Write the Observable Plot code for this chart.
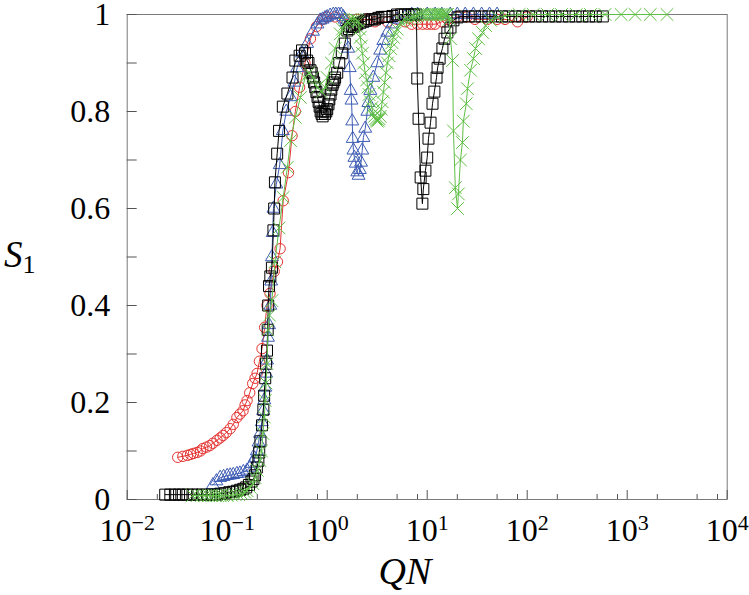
<!DOCTYPE html>
<html>
<head>
<meta charset="utf-8">
<script src="https://cdn.jsdelivr.net/npm/d3@7"></script>
<script src="https://cdn.jsdelivr.net/npm/@observablehq/plot@0.6"></script>
<style>
  html, body { margin: 0; padding: 0; background: #fff; }
</style>
</head>
<body>
<div id="chart"></div>
<script>
// ---- data ----
const redQN = [0.032,0.036,0.040,0.043,0.046,0.050,0.054,0.057,0.062,0.067,0.072,0.079,0.085,0.091,0.098,0.107,0.115,0.125,0.134,0.144,0.151,0.158,0.168,0.180,0.190,0.199,0.210,0.223,0.237,0.250,0.268,0.295,0.318,0.338,0.363,0.41,0.445,0.48,0.53,0.60,0.68,0.78,0.9,1.0,1.2,1.5,2,2.5,3,4,5,6,7,8,9,10,11,12,14,16,20,25,30,40,50,60,80,100];
const redS  = [0.087,0.089,0.091,0.093,0.095,0.097,0.100,0.105,0.108,0.111,0.116,0.122,0.127,0.132,0.138,0.146,0.155,0.169,0.176,0.183,0.195,0.204,0.220,0.239,0.250,0.260,0.285,0.311,0.355,0.400,0.425,0.47,0.49,0.517,0.616,0.674,0.75,0.80,0.85,0.90,0.95,0.975,0.99,0.995,0.995,0.99,0.99,0.99,0.985,0.985,0.99,0.985,0.98,0.98,0.98,0.98,0.98,0.98,0.985,0.99,0.995,0.995,0.99,0.99,0.99,0.99,0.985,0.995];

const blueQN = [0.072,0.078,0.085,0.092,0.100,0.107,0.115,0.125,0.134,0.145,0.158,0.168,0.177,0.188,0.198,0.206,0.213,0.222,0.229,0.235,0.240,0.245,0.250,0.256,0.262,0.270,0.275,0.280,0.285,0.290,0.310,0.335,0.360,0.390,0.430,0.470,0.500,0.560,0.630,0.720,0.800,0.850,0.900,0.950,1.00,1.07,1.15,1.22,1.30,1.38,1.45,1.50,1.55,1.62,1.68,1.72,1.75,1.78,1.80,1.83,1.87,1.93,2.00,2.06,2.12,2.18,2.24,2.30,2.40,2.52,2.58,2.70,2.89,3.17,3.39,3.64,3.99,4.48,5,6,7,8,10,12,14,17,20,24,29,35,42,50];
const blueS  = [0.030,0.038,0.045,0.047,0.049,0.050,0.051,0.053,0.054,0.057,0.060,0.066,0.074,0.085,0.100,0.118,0.136,0.160,0.183,0.205,0.231,0.260,0.287,0.334,0.360,0.400,0.450,0.500,0.550,0.600,0.650,0.690,0.760,0.800,0.830,0.860,0.890,0.920,0.940,0.965,0.980,0.988,0.990,0.993,0.995,0.998,1.0,1.0,1.0,1.0,0.995,0.990,0.985,0.930,0.890,0.843,0.823,0.780,0.744,0.720,0.705,0.693,0.675,0.668,0.680,0.695,0.720,0.746,0.765,0.800,0.818,0.843,0.870,0.900,0.926,0.946,0.963,0.980,0.990,0.995,1,1,1,1,1,1,1,1,1,1,1,1];

const blackQN = [0.024,0.027,0.030,0.033,0.036,0.040,0.045,0.050,0.056,0.063,0.070,0.078,0.085,0.095,0.105,0.115,0.125,0.135,0.145,0.155,0.165,0.175,0.183,0.190,0.198,0.205,0.209,0.215,0.223,0.230,0.234,0.240,0.245,0.250,0.254,0.257,0.262,0.270,0.280,0.290,0.295,0.300,0.316,0.330,0.360,0.400,0.450,0.480,0.530,0.560,0.600,0.630,0.650,0.680,0.700,0.720,0.740,0.760,0.780,0.800,0.820,0.840,0.860,0.880,0.900,0.920,0.950,0.980,1.00,1.03,1.05,1.08,1.10,1.13,1.15,1.18,1.20,1.26,1.32,1.40,1.50,1.59,1.65,1.70,1.78,1.85,1.92,2.00,2.15,2.30,2.45,2.60,2.80,3.00,3.25,3.50,3.75,4.00,4.50,5.00,5.50,6.00,6.50,7.00,7.40,7.80,7.96,8.20,8.60,8.95,9.15,9.60,10.0,10.3,10.8,11.3,11.8,12.4,12.7,13.3,14.2,14.9,15.9,17.1,18.3,20.1,22,26,30,35,41,48,56,65,76,89,104,121,141,165,192,224,262,305,356,415,485,570];
const blackS  = [0.010,0.010,0.010,0.010,0.010,0.010,0.010,0.010,0.010,0.010,0.010,0.010,0.012,0.013,0.015,0.016,0.018,0.020,0.022,0.025,0.030,0.037,0.042,0.050,0.066,0.080,0.097,0.120,0.153,0.185,0.214,0.250,0.280,0.307,0.350,0.400,0.440,0.460,0.478,0.555,0.600,0.654,0.713,0.760,0.810,0.837,0.870,0.905,0.915,0.926,0.920,0.905,0.900,0.885,0.880,0.870,0.860,0.850,0.840,0.830,0.820,0.810,0.800,0.795,0.790,0.800,0.795,0.800,0.805,0.815,0.825,0.835,0.845,0.855,0.860,0.865,0.870,0.880,0.900,0.920,0.940,0.967,0.970,0.975,0.975,0.975,0.978,0.980,0.983,0.985,0.987,0.990,0.990,0.990,0.993,0.995,0.995,0.995,0.997,1.0,1.0,1.0,1.0,1.0,1.0,1.0,0.868,0.785,0.664,0.610,0.640,0.678,0.705,0.744,0.777,0.816,0.841,0.870,0.890,0.909,0.930,0.950,0.963,0.973,0.988,0.994,0.996,0.996,0.996,0.996,0.996,0.996,0.996,0.996,0.996,0.996,0.996,0.996,0.996,0.996,0.996,0.996,0.996,0.996,0.996,0.996,0.996,0.996];

const greenQN = [0.045,0.050,0.055,0.060,0.065,0.070,0.075,0.080,0.085,0.090,0.100,0.110,0.120,0.130,0.140,0.150,0.158,0.170,0.180,0.190,0.200,0.213,0.220,0.228,0.235,0.240,0.245,0.250,0.256,0.265,0.280,0.300,0.330,0.363,0.400,0.430,0.480,0.540,0.600,0.660,0.720,0.800,0.880,0.950,1.00,1.10,1.20,1.35,1.42,1.50,1.60,1.70,1.80,1.90,2.00,2.05,2.10,2.14,2.20,2.25,2.32,2.40,2.48,2.55,2.62,2.70,2.80,2.89,2.97,3.05,3.10,3.17,3.25,3.30,3.39,3.47,3.55,3.65,3.75,3.87,4.00,4.15,4.30,4.45,4.60,4.80,5.00,5.50,6.00,6.50,7.00,7.50,8.00,8.50,9.00,9.50,10.0,10.5,11.0,11.5,12.0,12.5,13.0,13.5,14.0,14.5,15.0,15.5,16.0,16.6,17.1,17.9,18.3,19.1,20.1,20.5,21.5,22.5,23.0,24.6,25.3,27.1,29.0,30.4,32.6,35.8,38.4,43.0,50.5,60,83,115,160,220,310,430,600,870,1200,1700,2500];
const greenS  = [0.008,0.008,0.008,0.008,0.008,0.008,0.008,0.008,0.008,0.008,0.008,0.009,0.010,0.010,0.012,0.015,0.018,0.025,0.033,0.045,0.060,0.080,0.100,0.136,0.170,0.204,0.240,0.280,0.350,0.380,0.410,0.490,0.560,0.623,0.685,0.740,0.788,0.829,0.870,0.880,0.870,0.850,0.840,0.850,0.870,0.900,0.930,0.960,0.970,0.980,0.985,0.990,0.990,0.990,0.988,0.985,0.970,0.953,0.935,0.920,0.900,0.880,0.865,0.850,0.835,0.820,0.808,0.796,0.790,0.785,0.782,0.780,0.782,0.785,0.790,0.805,0.820,0.840,0.860,0.880,0.900,0.915,0.930,0.942,0.953,0.962,0.970,0.985,0.988,0.990,0.993,0.995,0.997,1.0,1.0,1.0,1.0,1.0,1.0,1.0,1.0,1.0,1.0,1.0,1.0,1.0,1.0,1.0,1.0,0.990,0.950,0.905,0.760,0.643,0.600,0.630,0.700,0.736,0.780,0.816,0.847,0.885,0.909,0.930,0.950,0.963,0.977,0.988,0.994,0.997,1,1,1,1,1,1,1,1,1,1,1];

const xMajor = [0.01, 0.1, 1, 10, 100, 1000, 10000];
const xMinor = [0.02,0.05,0.08,0.2,0.5,0.8,2,5,8,20,50,80,200,500,800,2000,5000,8000];
const yMajor = [0, 0.2, 0.4, 0.6, 0.8, 1];
const yMinor = [0.1, 0.3, 0.5, 0.7, 0.9];

const FONT = "'Liberation Serif', 'DejaVu Serif', serif";
const toRows = (qn, s) => qn.map((q, i) => ({qn: q, s: s[i]}));
const series = [
  {rows: toRows(redQN, redS),     color: "#e3312f", symbol: "circle",   r: 5.2},
  {rows: toRows(blueQN, blueS),   color: "#3d5cb3", symbol: "triangle", r: 4.8},
  {rows: toRows(blackQN, blackS), color: "#000000", symbol: "square",   r: 6.2},
  {rows: toRows(greenQN, greenS), color: "#5fbf45", symbol: "times",    r: 5.8}
];

const innerW = 749 - 126.7 - 22.3;
const innerH = 595 - 14 - 96;

const marks = [
  Plot.frame({stroke: "#7a7a7a"}),
  Plot.tickX(xMajor, {x: d => d, insetTop: innerH - 9, stroke: "#555"}),
  Plot.tickX(xMinor, {x: d => d, insetTop: innerH - 5, stroke: "#555"}),
  Plot.tickY(yMajor.concat(yMinor), {y: d => d, insetRight: innerW - 10, stroke: "#555"})
];
for (const sr of series) {
  marks.push(Plot.line(sr.rows, {x: "qn", y: "s", stroke: sr.color, strokeWidth: 1}));
  marks.push(Plot.dot(sr.rows, {x: "qn", y: "s", symbol: sr.symbol, r: sr.r, stroke: sr.color, fill: "none", strokeWidth: 1}));
}

const chart = Plot.plot({
  width: 749,
  height: 595,
  marginLeft: 126.7,
  marginRight: 22.3,
  marginTop: 14,
  marginBottom: 96,
  style: {fontFamily: FONT, fontSize: "32px", background: "#fff", color: "#000"},
  x: {type: "log", domain: [0.01, 10000], ticks: xMajor, tickSize: 0, tickPadding: 19,
      tickFormat: d => "10^" + Math.round(Math.log10(d)), label: null},
  y: {domain: [0, 1], ticks: yMajor, tickSize: 0, tickPadding: 17,
      tickFormat: d => (d === 0 || d === 1) ? String(d) : d.toFixed(1), label: null},
  marks
});

const svg = d3.select(chart);
svg.selectAll("text").each(function () {
  const m = /^10\^(-?\d+)$/.exec(this.textContent);
  if (m) {
    const t = d3.select(this);
    t.text("10");
    t.append("tspan").attr("dy", -11).attr("font-size", 22).text(m[1].replace("-", "\u2212"));
  }
});
svg.append("text")
  .attr("x", 405).attr("y", 584)
  .attr("text-anchor", "middle")
  .attr("font-family", FONT)
  .attr("font-style", "italic")
  .attr("font-size", 38)
  .text("QN");
const s1 = svg.append("text").attr("x", 4).attr("y", 267)
  .attr("text-anchor", "start")
  .attr("font-family", FONT)
  .attr("font-size", 37);
s1.append("tspan").attr("font-style", "italic").text("S");
s1.append("tspan").attr("font-size", 26).attr("dy", 6).text("1");

document.getElementById("chart").appendChild(chart);
</script>
</body>
</html>
